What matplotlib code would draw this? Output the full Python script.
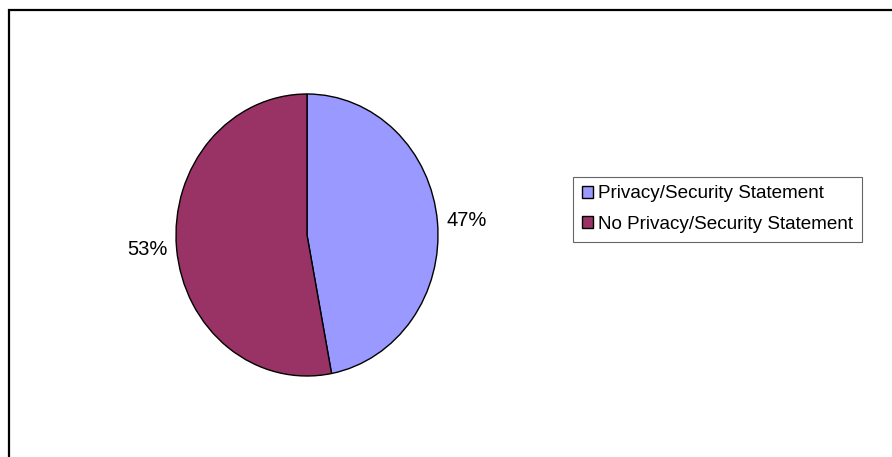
import matplotlib.pyplot as plt
from matplotlib.patches import Rectangle

# pie data
labels = ['Privacy/Security Statement', 'No Privacy/Security Statement']
shares = [47, 53]
colors = ['#9999FF', '#993366']

plt.rcParams['font.family'] = ['Liberation Sans', 'DejaVu Sans']

W, H = 892, 457
fig = plt.figure(figsize=(W / 100, H / 100), dpi=100)

# outer frame of the chart area (right and bottom run off the image)
fig.patches.append(Rectangle((9 / W, -0.1), 1.2, 1 - 10 / H + 0.1,
                             transform=fig.transFigure, fill=False,
                             edgecolor='black', linewidth=1.6))

# pie axes sized to the slightly taller-than-wide ellipse
ax = fig.add_axes([176 / W, 1 - 376 / H, 262 / W, 282 / H])
wedges, texts = ax.pie(shares, colors=colors, startangle=90, counterclock=False,
                       labels=[f'{v}%' for v in shares], labeldistance=1.07,
                       wedgeprops=dict(edgecolor='black', linewidth=1.0),
                       textprops=dict(fontsize=14.5))
ax.set_aspect('auto')
ax.set_xlim(-1, 1)
ax.set_ylim(-1, 1)

leg = fig.legend(wedges, labels, loc='upper left',
                 bbox_to_anchor=(573 / W, 1 - 177 / H),
                 fontsize=13.6, frameon=True, fancybox=False, shadow=False,
                 handlelength=0.6, handleheight=0.6, handletextpad=0.3,
                 borderpad=0.45, labelspacing=0.72, borderaxespad=0)
leg.get_frame().set_edgecolor('#404040')
leg.get_frame().set_linewidth(0.8)

fig.savefig('out.png', dpi=100)
